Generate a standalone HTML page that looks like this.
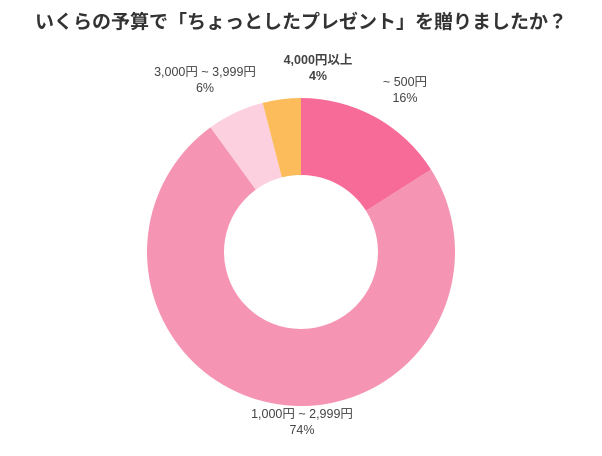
<!DOCTYPE html>
<html><head><meta charset="utf-8"><style>
body{margin:0;background:#fff;width:602px;height:451px;overflow:hidden;font-family:"Liberation Sans","Noto Sans CJK JP",sans-serif}
svg text{font-family:"Liberation Sans","Noto Sans CJK JP",sans-serif;fill:#444}
</style></head><body>
<svg id="c" width="602" height="451">
<text x="301" y="28" text-anchor="middle" font-size="19" font-weight="bold" style="fill:#333">いくらの予算で「ちょっとしたプレゼント」を贈りましたか？</text>
</svg>
<script>
const categories=["~ 500円","1,000円 ~ 2,999円","3,000円 ~ 3,999円","4,000円以上"];
const values=[16,74,6,4];
const colors=["#f76b98","#f594b3","#fcd0df","#fcbc5c"];
const labelPos=[[405,86],[302,418],[205,76],[318,64]];
const boldLabel=[false,false,false,true];
const svg=document.getElementById('c');const NS='http://www.w3.org/2000/svg';
const cx=301,cy=252,R=154,r=77;
const total=values.reduce((a,b)=>a+b,0);
let a0=0;
function pt(rad,a){return [cx+rad*Math.sin(a),cy-rad*Math.cos(a)];}
values.forEach((v,i)=>{
 const a1=a0+v/total*2*Math.PI;const big=(a1-a0)>Math.PI?1:0;
 const p1=pt(R,a0),p2=pt(R,a1),p3=pt(r,a1),p4=pt(r,a0);
 const p=document.createElementNS(NS,'path');
 p.setAttribute('d',`M${p1}A${R},${R} 0 ${big} 1 ${p2}L${p3}A${r},${r} 0 ${big} 0 ${p4}Z`);
 p.setAttribute('fill',colors[i]);
 
 
 svg.appendChild(p);
 const t=document.createElementNS(NS,'text');
 t.setAttribute('x',labelPos[i][0]);t.setAttribute('y',labelPos[i][1]);
 t.setAttribute('text-anchor','middle');t.setAttribute('font-size','12.5');
 if(boldLabel[i])t.setAttribute('font-weight','bold');
 
 
 const s1=document.createElementNS(NS,'tspan');s1.setAttribute('x',labelPos[i][0]);s1.textContent=categories[i];
 const s2=document.createElementNS(NS,'tspan');s2.setAttribute('x',labelPos[i][0]);s2.setAttribute('dy','16');s2.textContent=v+'%';
 t.appendChild(s1);t.appendChild(s2);svg.appendChild(t);
 a0=a1;
});
</script>
</body></html>
